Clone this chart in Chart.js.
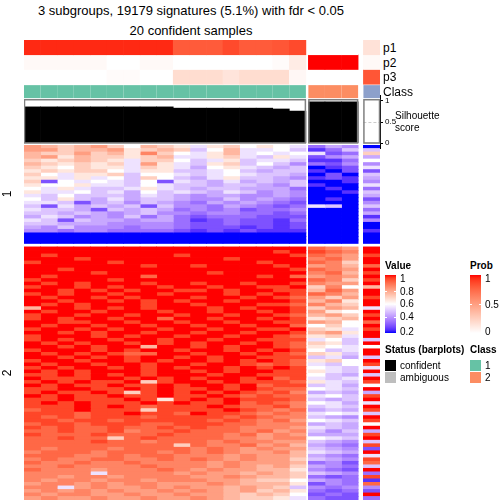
<!DOCTYPE html>
<html>
<head>
<meta charset="utf-8">
<script src="https://cdn.jsdelivr.net/npm/chart.js@4.4.1/dist/chart.umd.min.js"></script>
<style>
  body { margin: 0; width: 504px; height: 504px; background: #fff; position: relative; overflow: hidden;
         font-family: "Liberation Sans", Arial, Helvetica, sans-serif; }
  canvas { position: absolute; }
  .lab { position: absolute; white-space: nowrap; color: #000; line-height: 1; transform: translateY(-50%); }
  .bold { font-weight: bold; }
  .box { position: absolute; }
  .tick { position: absolute; background: #fff; height: 1px; width: 2px; }
</style>
</head>
<body>
<div class="lab" style="left:0;width:382px;text-align:center;top:10px;font-size:13px">3 subgroups, 19179 signatures (5.1%) with fdr &lt; 0.05</div>
<div class="lab" style="left:0;width:382px;text-align:center;top:29.5px;font-size:13px">20 confident samples</div>

<canvas id="annoChart" width="356" height="59" style="left:24px;top:40px"></canvas>
<canvas id="silChart" width="400" height="54" style="left:24px;top:95px"></canvas>
<canvas id="heatChart" width="356" height="355" style="left:24px;top:145px"></canvas>

<!-- annotation names -->
<div class="lab" style="left:383px;top:48px;font-size:12px">p1</div>
<div class="lab" style="left:383px;top:62.5px;font-size:12px">p2</div>
<div class="lab" style="left:383px;top:77px;font-size:12px">p3</div>
<div class="lab" style="left:383px;top:92px;font-size:12px">Class</div>
<div class="lab" style="left:395px;top:116px;font-size:10px">Silhouette</div>
<div class="lab" style="left:395px;top:128px;font-size:10px">score</div>

<!-- row slice titles -->
<div class="lab" style="left:4px;top:194px;font-size:12px;transform:translateY(-50%) rotate(-90deg)">1</div>
<div class="lab" style="left:4px;top:373px;font-size:12px;transform:translateY(-50%) rotate(-90deg)">2</div>

<!-- legends -->
<div class="lab bold" style="left:385px;top:265.5px;font-size:10px">Value</div>
<div class="box" id="valueBar" style="left:385px;top:275px;width:11px;height:58px"></div>
<div class="lab" style="left:400px;top:279px;font-size:10px">1</div>
<div class="lab" style="left:400px;top:291.5px;font-size:10px">0.8</div>
<div class="lab" style="left:400px;top:304px;font-size:10px">0.6</div>
<div class="lab" style="left:400px;top:317px;font-size:10px">0.4</div>
<div class="lab" style="left:400px;top:332px;font-size:10px">0.2</div>

<div class="lab bold" style="left:470px;top:265.5px;font-size:10px">Prob</div>
<div class="box" id="probBar" style="left:470px;top:275px;width:11px;height:58px"></div>
<div class="lab" style="left:485px;top:279px;font-size:10px">1</div>
<div class="lab" style="left:485px;top:305px;font-size:10px">0.5</div>
<div class="lab" style="left:485px;top:332px;font-size:10px">0</div>

<div class="lab bold" style="left:385px;top:350px;font-size:10px">Status (barplots)</div>
<div class="box" style="left:385px;top:360px;width:11px;height:11px;background:#000"></div>
<div class="box" style="left:385px;top:372px;width:11px;height:11px;background:#bebebe"></div>
<div class="lab" style="left:400px;top:365.5px;font-size:10px">confident</div>
<div class="lab" style="left:400px;top:377.5px;font-size:10px">ambiguous</div>

<div class="lab bold" style="left:470px;top:350px;font-size:10px">Class</div>
<div class="box" style="left:470px;top:360px;width:11px;height:11px;background:#66C2A5"></div>
<div class="box" style="left:470px;top:372px;width:11px;height:11px;background:#FC8D62"></div>
<div class="lab" style="left:485px;top:365.5px;font-size:10px">1</div>
<div class="lab" style="left:485px;top:377.5px;font-size:10px">2</div>

<script>
// ---- data ----
const clusterSizes = [17, 3, 1];
const clusterGaps = [0.15, 0.32];          // gaps between column slices, in column units

const p1 = [0.95, 0.95, 0.95, 0.95, 0.95, 0.95, 0.95, 0.95, 0.95,
            0.8, 0.8, 0.8, 0.86, 0.8, 0.8, 0.82, 0.86,
            0, 0, 0, 0.15];
const p2 = [0.03, 0.03, 0.03, 0.03, 0.03, 0, 0, 0.03, 0.03,
            0, 0, 0, 0, 0, 0, 0.02, 0.1,
            1, 1, 1, 0.03];
const p3 = [0, 0, 0, 0, 0, 0.02, 0.02, 0, 0,
            0.18, 0.18, 0.18, 0.14, 0.18, 0.18, 0.18, 0.04,
            0, 0, 0, 0.82];
const classes = [1, 1, 1, 1, 1, 1, 1, 1, 1, 1, 1, 1, 1, 1, 1, 1, 1, 2, 2, 2, 3];
const silhouette = [0.86, 0.86, 0.86, 0.86, 0.86, 0.86, 0.86, 0.86, 0.86,
                    0.83, 0.83, 0.83, 0.83, 0.83, 0.83, 0.81, 0.76,
                    0.98, 0.98, 0.98, 0];
const status = ['confident', 'confident', 'confident', 'confident', 'confident', 'confident', 'confident',
                'confident', 'confident', 'confident', 'confident', 'confident', 'confident', 'confident',
                'confident', 'confident', 'confident', 'confident', 'confident', 'confident', 'ambiguous'];
const annoTracks = ['p1', 'p2', 'p3', 'Class'];
const silTicks = [0, 0.5, 1];

// heatmap cells: a = 0.2, b = 0.25 ... i = 0.6 ... q = 1.0 ; columns: 17 | 3 | 1
const LEVELS = 'abcdefghijklmnopq';
const group1Rows = [
  'mlklm kilkj hjkij ih|dfe|a',
  'mmkll mjklk gilhh ig|bdg|g',
  'lkkmk ljnki hjlhi hi|hcd|k',
  'lmjlk kjklh hjkhg jh|cef|f',
  'kjklk jhkki ghjgh hg|bbd|i',
  'lkjkj khmjh gjkgi ge|dce|e',
  'kjikj jhkjh fijhg fg|abc|h',
  'jkjkk ihjjg ghigf gg|bac|c',
  'kihjj kgiih ghihg gf|aca|g',
  'jjhjh igkig fhjgg fe|bcb|f',
  'kcihi hgich gfhfg fg|aab|e',
  'jiijh hgihg gfggf eg|baa|h',
  'ihjhg ghjhg fggff fd|aba|d',
  'jhhig hfigh gfhge fe|aab|g',
  'hgigg gfhgf effee fe|aaa|f',
  'igjgf hfggf eegef ed|aba|c',
  'hhgcf gegfe dfefe dc|aaa|e',
  'gchfg fgcge edfed cd|hga|g',
  'hggfc gfgfd edecd de|aaa|d',
  'ggfgf efgee deedd cd|aaa|f',
  'fhgef egdfd cdddc cc|aaa|b',
  'hgcgf feffd bcdcc bd|aaa|e',
  'ggfff eeeed ccdcc bc|aaa|a',
  'fegee edeed cccbc bc|aaa|a',
  'eedee ddddc bcbcb bb|aaa|b',
  'aaaaa aaaaa aaaaa aa|aaa|a',
  'aaaaa aaaaa aaaaa aa|aaa|a',
  'aaaaa aaaaa aaaaa aa|aaa|a'
];
const group2Rows = [
  'qqqqq qqqqq qqqqq qq|onm|q',
  'qqqqq qqqqq qqqqq pq|pon|q',
  'qpqqq qqqqp qqqqq qp|onm|p',
  'qqqpq qqqqq qqpqq qq|nom|q',
  'pqqqq pqqqq qqqqp qq|onk|q',
  'qqqqq qqpqq pqqqq pq|mnl|o',
  'qqpqq qqqqq qqqqq qp|onm|q',
  'qqqqp qqqqq qpqqq qq|nol|p',
  'qpqqq qqoqq qqqqp qo|mnm|q',
  'pqqqq pqqqq qqqqq qq|onk|p',
  'qpqpq qqpqq pqqpq qp|nmm|q',
  'pqqpq pqqpq qpqqp pq|kni|l',
  'qqpqp qpqqp pqpqq pp|lom|q',
  'pqpqq pqqpq qqpqp qp|onl|q',
  'qpqqp qpqqq pqqpq po|mkm|p',
  'qqpqq pqpqp qqpqq qp|lnj|q',
  'qpqpq qqpqq pqqqp po|nlk|q',
  'lqqpq pqpqq qpqpq qp|kml|h',
  'qpqqp qqqpq qpqqp qp|mji|q',
  'pqqpq qpqqp qqpqq po|lmk|p',
  'pqpqq pqqoq qpqqp qp|jkl|q',
  'qqppq qpqqp qqpqq pp|mli|o',
  'qpqqp qqpqq pqqpq qo|iki|q',
  'pqqpq pqqpq qpqqp pq|kjh|p',
  'qqpqp qqpqq pqqpq qp|lmj|q',
  'pqqqp qpqqp qqpqq po|jkh|q',
  'pqpqq pqqpq qpqqp pp|hig|g',
  'qpqpq qpqpq pqqpq po|kjg|q',
  'qqpqp qqlqq pqpqq po|jih|i',
  'pqqqp qpqqp qqpqp qp|igh|q',
  'qpqpq pooqq pqqpq po|kjg|q',
  'qqpqp qpqqp qpqqp pp|ghf|g',
  'pqqpq qpqpq qpqpq po|jki|q',
  'qpqqp qqpqq pqqpo po|hgi|p',
  'pqpqq pqpqp qqpqp qp|ihg|h',
  'qpqpq qqpqq pqpqq pp|jhg|q',
  'ppqpq pqpqq qpqqp pp|igf|g',
  'qpppq qpqpq pqqpq op|hgh|q',
  'pqpqp pqkpq qpqpp po|jhg|p',
  'qpqpp qppqp qqpqo pp|ghf|i',
  'ppqqp pqpqp pqpqp oo|ihg|q',
  'pqppq pkpqp qpqpo pn|fgf|f',
  'qpqpp qppqp pqpop oo|hig|p',
  'ppqpp pqpjp qpqpp po|gfg|q',
  'pqpqp ppqpq ppqop on|ihf|h',
  'pppqp qpopp pqpoo pn|ghg|q',
  'oppqp ppkpp ppqpo no|fgf|p',
  'pppop pqppo qppon on|hih|g',
  'popop ppopp ppopo nn|gfe|q',
  'ppopp opppp popon om|ihg|p',
  'oppop ppoop ppoon nn|fgf|i',
  'popoo poopo poonn nm|hgf|q',
  'oopoo pnoop ooono mn|geg|f',
  'pooop ooopo oonom nm|fff|p',
  'oopoo kopoo oonnm nn|ihg|q',
  'oooop oonoo ononn mm|gfe|g',
  'ooooo ooook onnom nl|fed|p',
  'onooo noooo nonmn mm|gfe|c',
  'nooon ooono nonmm nl|hgf|q',
  'ooonn onoon nnmnm ml|fed|h',
  'nonno onnon onmnm mk|gfe|p',
  'onnon nonnn nmnmm ml|dec|o',
  'nnonn nnonn nmnml mk|fed|g',
  'onnnm nnnon mnmml lj|edc|q',
  'nnnnh nnnnm nmmlm lk|gfe|d',
  'nnmnn mnnnn mmnml lk|dcd|p',
  'nmnnm nnmnn nmmlk ki|fed|b',
  'mnnmn mnnmm mnmll lj|ced|o',
  'nnhmn mmnmn mmlml kg|ede|e',
  'mnmnm nmmnm nmlmk lj|dcd|c',
  'nmnnm mnmmn mmlkl ki|cdc|q',
  'mnmmn mmnmm nmlkk jh|dcc|d'
];

// ---- colours ----
const classColors = { 1: '#66C2A5', 2: '#FC8D62', 3: '#8DA0CB' };
const statusColors = { confident: '#000000', ambiguous: '#BEBEBE' };

function toLin(c) { c /= 255; return c <= 0.04045 ? c / 12.92 : Math.pow((c + 0.055) / 1.055, 2.4); }
function fromLin(c) {
    c = c <= 0.0031308 ? 12.92 * c : 1.055 * Math.pow(c, 1 / 2.4) - 0.055;
    return Math.round(Math.min(1, Math.max(0, c)) * 255);
}
function rgb2lab(rgb) {
    const [r, g, b] = rgb.map(toLin);
    const X = (0.4124 * r + 0.3576 * g + 0.1805 * b) / 0.95047;
    const Y = 0.2126 * r + 0.7152 * g + 0.0722 * b;
    const Z = (0.0193 * r + 0.1192 * g + 0.9505 * b) / 1.08883;
    const f = t => t > 0.008856 ? Math.cbrt(t) : 7.787 * t + 16 / 116;
    return [116 * f(Y) - 16, 500 * (f(X) - f(Y)), 200 * (f(Y) - f(Z))];
}
function lab2rgb([L, a, b]) {
    const fy = (L + 16) / 116, fx = fy + a / 500, fz = fy - b / 200;
    const fi = t => t * t * t > 0.008856 ? t * t * t : (t - 16 / 116) / 7.787;
    const X = 0.95047 * fi(fx), Y = fi(fy), Z = 1.08883 * fi(fz);
    return [
        3.2406 * X - 1.5372 * Y - 0.4986 * Z,
        -0.9689 * X + 1.8758 * Y + 0.0415 * Z,
        0.0557 * X - 0.2040 * Y + 1.0570 * Z
    ].map(fromLin);
}
function ramp(breaks, colors) {
    const labs = colors.map(rgb2lab);
    return v => {
        let k = 0;
        while (k < breaks.length - 2 && v > breaks[k + 1]) k++;
        let t = (v - breaks[k]) / (breaks[k + 1] - breaks[k]);
        t = Math.max(0, Math.min(1, t));
        const m = labs[k].map((x, i) => x + (labs[k + 1][i] - x) * t);
        const [r, g, b] = lab2rgb(m);
        return `rgb(${r},${g},${b})`;
    };
}
const valueColor = ramp([0.2, 0.6, 1], [[0, 0, 255], [255, 255, 255], [255, 0, 0]]);
const probColor = ramp([0, 1], [[255, 255, 255], [255, 0, 0]]);

// ---- column geometry (column units) ----
const colLeft = [];
const clusterRange = [];
let pos = 0;
clusterSizes.forEach((n, k) => {
    clusterRange.push([pos, pos + n]);
    for (let i = 0; i < n; i++) colLeft.push(pos + i);
    pos += n + (clusterGaps[k] || 0);
});
const xMax = colLeft[colLeft.length - 1] + 1;

const decode = s => s.replace(/[ |]/g, '').split('').map(ch => 0.2 + 0.05 * LEVELS.indexOf(ch));
const heatRows = [...group1Rows.map(decode), null, ...group2Rows.map(decode)];

const baseOptions = {
    responsive: false,
    animation: false,
    devicePixelRatio: 1,
    events: [],
    layout: { padding: 0 },
    plugins: { legend: { display: false }, tooltip: { enabled: false } }
};

// ---- top annotations ----
const annoValues = [p1, p2, p3];
new Chart(document.getElementById('annoChart'), {
    type: 'bar',
    data: {
        labels: annoTracks,
        datasets: annoTracks.map((track, k) => ({
            data: colLeft.map(x0 => ({ y: track, x: [x0, x0 + 1] })),
            backgroundColor: k < 3 ? annoValues[k].map(probColor) : classes.map(c => classColors[c]),
            barPercentage: track === 'Class' ? 0.88 : 1,
            categoryPercentage: 1,
            grouped: false,
            borderWidth: 0
        }))
    },
    options: {
        ...baseOptions,
        indexAxis: 'y',
        scales: {
            x: { type: 'linear', min: 0, max: xMax, display: false },
            y: { type: 'category', display: false }
        }
    }
});

// ---- silhouette barplot ----
const silFrame = {
    id: 'silFrame',
    beforeDatasetsDraw(chart) {
        const { ctx, scales: { x, y } } = chart;
        ctx.save();
        ctx.strokeStyle = '#cccccc';
        ctx.lineWidth = 1;
        ctx.setLineDash([3, 2]);
        clusterRange.forEach(([a, b]) => {
            const yy = Math.round(y.getPixelForValue(0.5)) + 0.5;
            ctx.beginPath();
            ctx.moveTo(x.getPixelForValue(a), yy);
            ctx.lineTo(x.getPixelForValue(b), yy);
            ctx.stroke();
        });
        ctx.restore();
    },
    afterDatasetsDraw(chart) {
        const { ctx, scales: { x, y } } = chart;
        ctx.save();
        ctx.strokeStyle = '#808080';
        ctx.lineWidth = 1.5;
        clusterRange.forEach(([a, b]) => {
            const x0 = x.getPixelForValue(a), x1 = x.getPixelForValue(b);
            const y0 = y.getPixelForValue(1.03), y1 = y.getPixelForValue(0);
            ctx.strokeRect(x0 + 0.5, y0, x1 - x0 - 1, y1 - y0);
        });
        ctx.restore();
    }
};

new Chart(document.getElementById('silChart'), {
    type: 'bar',
    data: {
        datasets: [{
            data: silhouette.map((s, c) => ({ x: colLeft[c] + 0.5, y: s })),
            backgroundColor: status.map(s => statusColors[s]),
            barPercentage: 1,
            categoryPercentage: 1,
            borderWidth: 0
        }]
    },
    options: {
        ...baseOptions,
        scales: {
            x: { type: 'linear', min: 0, max: xMax, offset: false, display: false },
            y: {
                type: 'linear',
                position: 'right',
                min: -6 / 42,
                max: 1 + 6 / 42,
                afterBuildTicks: axis => { axis.ticks = silTicks.map(v => ({ value: v })); },
                afterFit: axis => { axis.width = 44; axis.paddingTop = 0; axis.paddingBottom = 0; },
                ticks: { color: '#000', font: { size: 8, family: 'Liberation Sans' }, padding: 2, callback: v => String(v) },
                grid: { drawOnChartArea: false, drawTicks: true, tickLength: 3, color: '#000' },
                border: { display: true, color: '#000', width: 1 }
            }
        }
    },
    plugins: [silFrame]
});

// ---- heatmap body ----
new Chart(document.getElementById('heatChart'), {
    type: 'bar',
    data: {
        labels: heatRows.map((r, i) => 'row' + i),
        datasets: colLeft.map((x0, c) => ({
            data: heatRows.map(r => r ? [x0, x0 + 1] : null),
            backgroundColor: heatRows.map(r => r ? valueColor(r[c]) : 'rgba(0,0,0,0)'),
            barPercentage: 1,
            categoryPercentage: 1,
            grouped: false,
            borderWidth: 0,
            inflateAmount: 0.4
        }))
    },
    options: {
        ...baseOptions,
        indexAxis: 'y',
        scales: {
            x: { type: 'linear', min: 0, max: xMax, display: false },
            y: { type: 'category', display: false }
        }
    }
});

// ---- colour bar legends ----
function gradient(fn, lo, hi) {
    const stops = [];
    for (let i = 0; i <= 20; i++) {
        const v = hi - (hi - lo) * i / 20;
        stops.push(`${fn(v)} ${i * 5}%`);
    }
    return `linear-gradient(to bottom, ${stops.join(', ')})`;
}
document.getElementById('valueBar').style.background = gradient(valueColor, 0.2, 1);
document.getElementById('probBar').style.background = gradient(probColor, 0, 1);

function addTicks(left, ys) {
    ys.forEach(y => {
        [left, left + 9].forEach(x => {
            const t = document.createElement('div');
            t.className = 'tick';
            t.style.left = x + 'px';
            t.style.top = y + 'px';
            document.body.appendChild(t);
        });
    });
}
addTicks(385, [291, 304, 317]);
addTicks(470, [304]);
</script>
</body>
</html>
